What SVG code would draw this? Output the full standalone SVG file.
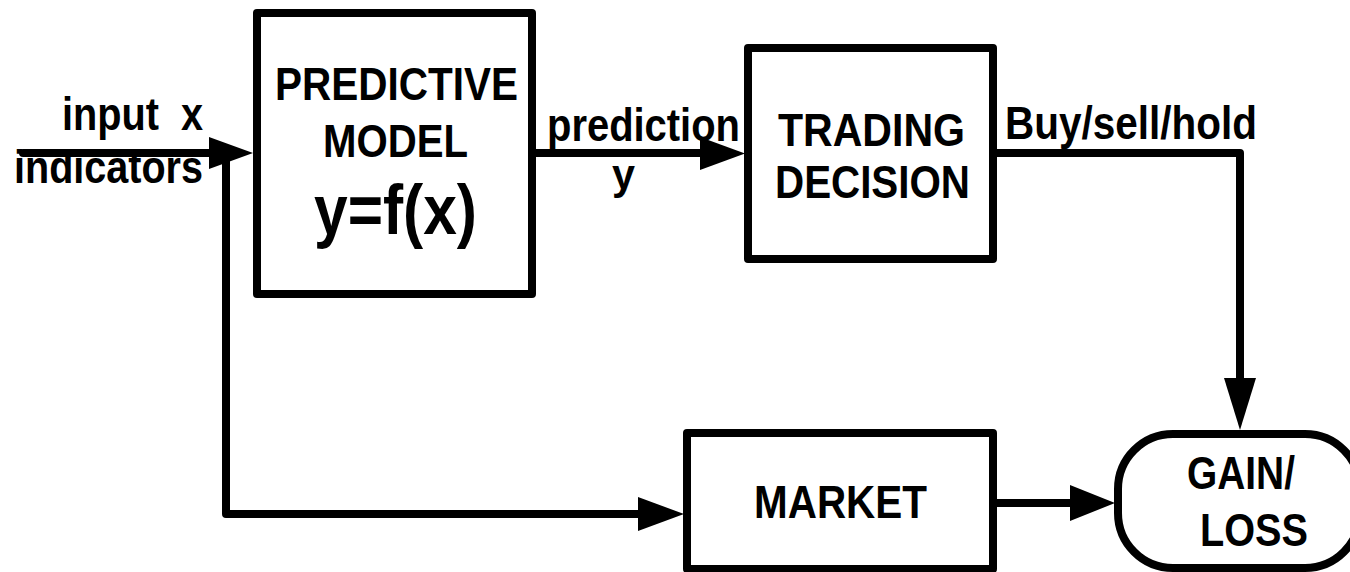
<svg xmlns="http://www.w3.org/2000/svg" width="1350" height="572" viewBox="0 0 1350 572">
<style>
.box{fill:#fff;stroke:#000;stroke-width:8;stroke-linejoin:round}
.ln{fill:none;stroke:#000;stroke-width:8;stroke-linejoin:round;stroke-linecap:round}
.ah{fill:#000;stroke:none}
text{font-family:"Liberation Sans",Arial,sans-serif;font-weight:bold;fill:#000;font-size:46px}
.m{text-anchor:middle}
</style>
<rect width="1350" height="572" fill="#fff"/>
<g id="connectors">
<path class="ln" d="M23,153 H212"/>
<polygon class="ah" points="209,137 253,153 209,169"/>
<path class="ln" d="M226,153 V514 H640"/>
<polygon class="ah" points="638,497 684,514 638,531"/>
<path class="ln" d="M532,153 H702"/>
<polygon class="ah" points="700,137 745,153.5 700,170"/>
<path class="ln" d="M993,153 H1240 V382"/>
<polygon class="ah" points="1224,378 1240,430 1256,378"/>
<path class="ln" d="M993,503 H1072"/>
<polygon class="ah" points="1070,485 1115,503 1070,521"/>
</g>
<g id="labels">
<text x="62" y="130" textLength="141" lengthAdjust="spacingAndGlyphs" xml:space="preserve">input  x</text>
<text x="14" y="183" textLength="189" lengthAdjust="spacingAndGlyphs">indicators</text>
<text x="547" y="141" textLength="193" lengthAdjust="spacingAndGlyphs">prediction</text>
<text x="612" y="189" style="font-size:42px" textLength="23" lengthAdjust="spacingAndGlyphs">y</text>
<text x="1005" y="139" textLength="252" lengthAdjust="spacingAndGlyphs">Buy/sell/hold</text>
</g>
<g id="predictive-model">
<rect class="box" x="257" y="13" width="275" height="281"/>
<text class="m" x="396.5" y="100" textLength="243" lengthAdjust="spacingAndGlyphs">PREDICTIVE</text>
<text class="m" x="395.5" y="157" textLength="145" lengthAdjust="spacingAndGlyphs">MODEL</text>
<text class="m" x="395.5" y="234" style="font-size:70px" textLength="163" lengthAdjust="spacingAndGlyphs">y=f(x)</text>
</g>
<g id="trading-decision">
<rect class="box" x="748" y="48" width="245" height="211"/>
<text class="m" x="871.5" y="146" textLength="187" lengthAdjust="spacingAndGlyphs">TRADING</text>
<text class="m" x="872.5" y="198" textLength="195" lengthAdjust="spacingAndGlyphs">DECISION</text>
</g>
<g id="market">
<rect class="box" x="687" y="433" width="306" height="136"/>
<text class="m" x="840.5" y="518" textLength="173" lengthAdjust="spacingAndGlyphs">MARKET</text>
</g>
<g id="gain-loss">
<rect class="box" x="1118" y="434" width="242" height="134" rx="55" ry="55"/>
<text x="1187" y="489" textLength="108" lengthAdjust="spacingAndGlyphs">GAIN/</text>
<text x="1200" y="546" textLength="108" lengthAdjust="spacingAndGlyphs">LOSS</text>
</g>
</svg>
